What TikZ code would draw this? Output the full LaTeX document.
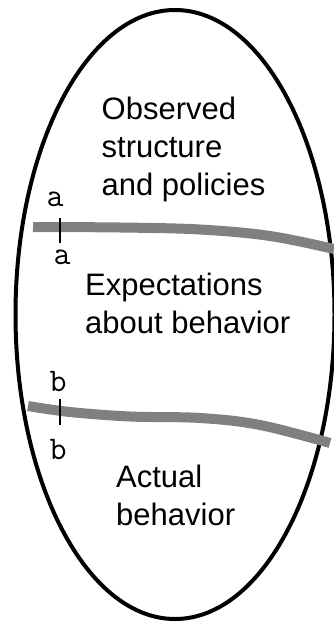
\documentclass[tikz,border=0pt]{standalone}
\usepackage{fontspec}
\setmainfont{Liberation Sans}
\begin{document}
\begin{tikzpicture}[x=1pt,y=-1pt,
  region/.style={anchor=base west, inner sep=0pt, font=\fontsize{31}{38}\selectfont},
  cutlabel/.style={anchor=base, inner sep=0pt, font=\ttfamily\fontsize{33}{36}\selectfont},
  boundary/.style={draw=black!50, line width=10pt},
  tickmark/.style={draw=black, line width=1.3pt}]
\useasboundingbox (0,0) rectangle (333,623);
\draw[line width=4pt] (175,314.5) ellipse [x radius=159.5, y radius=304.5];
% boundaries
\draw[boundary] plot[smooth, tension=0.6] coordinates {(33,227) (120,227.5) (200,229.5) (270,236) (334,249)};
\draw[boundary] plot[smooth, tension=0.6] coordinates {(28,406) (70,412) (130,416.5) (200,418) (260,425) (330,443)};
% ticks
\coordinate (ta1) at (60,218); \coordinate (ta2) at (60,243);
\coordinate (tb1) at (60,399); \coordinate (tb2) at (60,425);
\draw[tickmark] (ta1) -- (ta2);
\draw[tickmark] (tb1) -- (tb2);
% labels
\node[cutlabel] (a1) at (55,206) {a};
\node[cutlabel] (a2) at (62,264) {a};
\node[cutlabel] (b1) at (58,391) {b};
\node[cutlabel] (b2) at (58,459) {b};
% texts
\node[region] (obs) at (101.5,119) {\begin{tabular}[t]{@{}l@{}}Observed\\structure\\and policies\end{tabular}};
\node[region] (exp) at (85,295) {\begin{tabular}[t]{@{}l@{}}Expectations\\about behavior\end{tabular}};
\node[region] (act) at (116,487) {\begin{tabular}[t]{@{}l@{}}Actual\\behavior\end{tabular}};
\end{tikzpicture}
\end{document}
